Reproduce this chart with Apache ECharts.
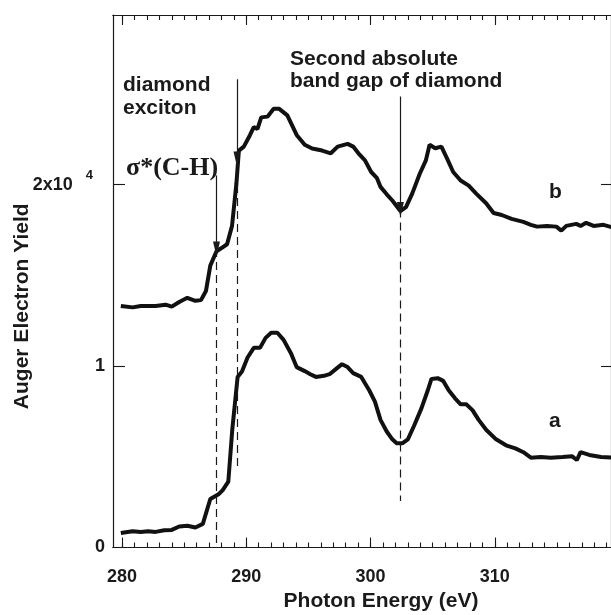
<!DOCTYPE html>
<html>
<head>
<meta charset="utf-8">
<script src="https://cdn.jsdelivr.net/npm/echarts@6/dist/echarts.min.js"></script>
<style>
  html, body { margin: 0; padding: 0; background: #fff; }
  #main { width: 611px; height: 615px; }
</style>
</head>
<body>
<div id="main"></div>
<script>
// curve a (lower), energy in eV, yield in units of 1e4
var energyA = [279.9, 280.85, 281.5, 282.1, 282.7, 283.4, 284.0, 284.6, 285.25, 285.9, 286.5, 287.1, 287.8, 288.1,
  288.55, 288.87, 289.3, 289.65, 290.1, 290.6, 291.1, 291.55, 292.0, 292.5, 293.0, 293.6, 294.05, 294.7, 295.15,
  295.6, 296.25, 296.7, 297.2, 297.7, 298.15, 298.6, 299.25, 299.9, 300.35, 300.8, 301.3, 301.75, 302.1, 302.55,
  303.0, 303.5, 304.1, 304.6, 304.9, 305.4, 305.85, 306.3, 306.8, 307.25, 307.7, 308.2, 308.7, 309.3, 310.1,
  310.9, 311.65, 312.3, 312.9, 313.7, 314.5, 315.45, 316.2, 316.6, 316.9, 317.6, 318.55, 319.5];
var yieldA = [0.08, 0.09, 0.086, 0.09, 0.086, 0.095, 0.097, 0.116, 0.12, 0.11, 0.13, 0.267, 0.295, 0.316,
  0.363, 0.65, 0.94, 0.97, 1.047, 1.10, 1.10, 1.155, 1.183, 1.183, 1.144, 1.069, 0.994, 0.972, 0.955,
  0.94, 0.946, 0.955, 0.983, 1.01, 0.994, 0.961, 0.94, 0.865, 0.804, 0.703, 0.639, 0.596, 0.574, 0.574,
  0.596, 0.671, 0.768, 0.865, 0.929, 0.933, 0.918, 0.865, 0.822, 0.789, 0.789, 0.757, 0.703, 0.649, 0.596,
  0.563, 0.546, 0.525, 0.495, 0.499, 0.495, 0.499, 0.503, 0.482, 0.525, 0.51, 0.499, 0.495];

// curve b (upper)
var energyB = [279.9, 280.85, 281.5, 282.7, 283.5, 284.0, 284.6, 285.25, 285.9, 286.35, 286.75, 287.1, 287.6,
  288.0, 288.45, 288.85, 289.2, 289.4, 289.8, 290.3, 290.6, 290.9, 291.2, 291.7, 292.2, 292.65, 293.3, 294.05,
  294.7, 295.3, 296.1, 296.8, 297.35, 298.15, 298.6, 299.1, 299.55, 300.05, 300.5, 300.8, 301.3, 301.75, 302.4,
  302.85, 303.35, 303.95, 304.45, 304.75, 305.2, 305.7, 306.15, 306.65, 307.25, 307.9, 308.5, 309.3, 309.9,
  310.55, 311.35, 312.3, 312.9, 313.4, 314.2, 314.95, 315.35, 315.75, 316.55, 316.9, 317.35, 317.95, 318.75, 319.5];
var yieldB = [1.331, 1.323, 1.331, 1.331, 1.338, 1.327, 1.353, 1.376, 1.359, 1.363, 1.413, 1.553, 1.632,
  1.65, 1.671, 1.772, 2.004, 2.187, 2.209, 2.273, 2.316, 2.306, 2.37, 2.374, 2.417, 2.417, 2.381, 2.273,
  2.219, 2.198, 2.187, 2.172, 2.209, 2.224, 2.209, 2.166, 2.133, 2.069, 2.037, 1.987, 1.946, 1.912, 1.854,
  1.875, 1.95, 2.058, 2.133, 2.219, 2.2, 2.209, 2.144, 2.069, 2.022, 1.994, 1.95, 1.897, 1.843,
  1.832, 1.811, 1.794, 1.778, 1.768, 1.772, 1.768, 1.746, 1.772, 1.783, 1.772, 1.789, 1.772, 1.778, 1.763];

var xLabelTicks = [280, 290, 300, 310];
var yLabelTicks = [0, 1, 2];

// marker lines: energy, arrow start, arrow tip, dashed line bottom
var markerEnergy = [287.6, 289.25, 302.4];
var arrowTop = [2.05, 2.58, 2.485];
var arrowTip = [1.645, 2.14, 1.862];
var dashBottom = [0, 0.449, 0.256];

var minorTicks = [];
for (var e = 280; e <= 319; e++) minorTicks.push(e);

function zip(xs, ys) {
  return xs.map(function (x, i) { return [x, ys[i]]; });
}

var font = '"Liberation Sans", Arial, Helvetica, sans-serif';
var ink = '#1a1a1a';

var arrowLines = [];
var dashLines = [];
markerEnergy.forEach(function (x, i) {
  arrowLines.push([{ coord: [x, arrowTop[i]] }, { coord: [x, arrowTip[i]] }]);
  dashLines.push([{ coord: [x, arrowTip[i]] }, { coord: [x, dashBottom[i]] }]);
});

function xAxisBase(pos, tickValues, len, showLabel) {
  return {
    type: 'value', position: pos, min: 279.27, max: 319.35,
    axisLine: { show: true, lineStyle: { color: ink, width: 1.2 } },
    splitLine: { show: false },
    axisTick: { show: true, inside: true, length: len, customValues: tickValues,
      lineStyle: { color: ink, width: 1.1 } },
    axisLabel: { show: showLabel, customValues: xLabelTicks, margin: 21,
      fontFamily: font, fontWeight: 'bold', fontSize: 18, color: ink }
  };
}

var xBottom = xAxisBase('bottom', minorTicks, 5, true);
xBottom.name = 'Photon Energy (eV)';
xBottom.nameLocation = 'middle';
xBottom.nameGap = 43;
xBottom.nameMoveOverlap = false;
xBottom.nameTextStyle = { fontFamily: font, fontWeight: 'bold', fontSize: 21, color: ink, padding: [0, 0, 0, 38] };

var chart = echarts.init(document.getElementById('main'));
chart.setOption({
  backgroundColor: '#ffffff',
  animation: false,
  grid: { left: 113, top: 15, width: 498, height: 532.5, outerBoundsMode: 'none', containLabel: false },
  xAxis: [
    xBottom,
    xAxisBase('bottom', [280, 290, 300, 310], 10, false),
    xAxisBase('top', minorTicks, 5, false),
    xAxisBase('top', [280, 290, 300, 310], 10, false)
  ],
  yAxis: [{
    type: 'value', position: 'left', min: 0, max: 2.934,
    axisLine: { show: true, lineStyle: { color: ink, width: 1.2 } },
    splitLine: { show: false },
    axisTick: { show: true, inside: true, length: 12, customValues: yLabelTicks,
      lineStyle: { color: ink, width: 1.1 } },
    axisLabel: {
      customValues: yLabelTicks, margin: 8,
      fontFamily: font, fontWeight: 'bold', fontSize: 18, color: ink,
      formatter: function (v) { return v === 2 ? '{m|2x10}{s|4}' : String(v); },
      rich: {
        m: { fontFamily: font, fontWeight: 'bold', fontSize: 18, color: ink, padding: [8, 0, 6, 0] },
        s: { fontFamily: font, fontWeight: 'bold', fontSize: 13, lineHeight: 13, color: ink,
          verticalAlign: 'top', padding: [0, 12, 0, 13] }
      }
    },
    name: 'Auger Electron Yield', nameLocation: 'middle', nameGap: 80, nameMoveOverlap: false,
    nameTextStyle: { fontFamily: font, fontWeight: 'bold', fontSize: 21, color: ink, padding: [0, 50, 0, 0] }
  }, {
    type: 'value', position: 'right', min: 0, max: 2.934,
    axisLine: { show: true, lineStyle: { color: ink, width: 1.2 } },
    splitLine: { show: false },
    axisTick: { show: true, inside: true, length: 10, customValues: [1, 2],
      lineStyle: { color: ink, width: 1.1 } },
    axisLabel: { show: false }
  }],
  series: [{
    name: 'a', type: 'line', data: zip(energyA, yieldA), showSymbol: false,
    lineStyle: { color: '#111', width: 4 },
    markLine: {
      silent: true, symbol: ['none', 'none'], label: { show: false },
      lineStyle: { color: ink, width: 1.2, type: [8, 5] },
      data: dashLines
    }
  }, {
    name: 'b', type: 'line', data: zip(energyB, yieldB), showSymbol: false,
    lineStyle: { color: '#111', width: 4 },
    markLine: {
      silent: true, symbol: ['none', 'triangle'], symbolSize: [7, 15], label: { show: false },
      lineStyle: { color: ink, width: 1.2, type: 'solid' },
      itemStyle: { color: ink },
      data: arrowLines
    }
  }],
  graphic: [
    { type: 'text', left: 123, top: 73, style: { text: 'diamond\nexciton', font: 'bold 21px ' + font, fill: ink, lineHeight: 23.5 } },
    { type: 'text', left: 290, top: 48, style: { text: 'Second absolute\nband gap of diamond', font: 'bold 21px ' + font, fill: ink, lineHeight: 22 } },
    { type: 'text', left: 126, top: 155, style: { text: 'σ*(C-H)', font: 'bold 26px "Liberation Serif", "Times New Roman", serif', fill: ink } },
    { type: 'text', left: 549, top: 182, style: { text: 'b', font: 'bold 21px ' + font, fill: ink } },
    { type: 'text', left: 549, top: 411, style: { text: 'a', font: 'bold 21px ' + font, fill: ink } }
  ]
});
</script>
</body>
</html>
